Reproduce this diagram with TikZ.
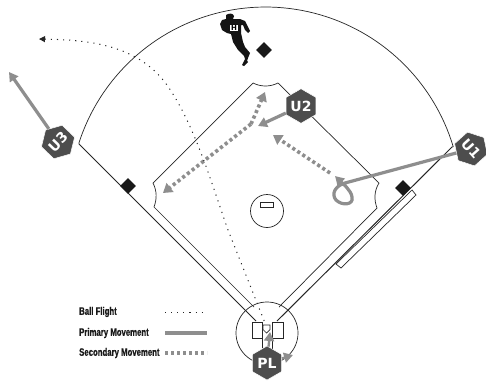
\documentclass[tikz,border=0pt]{standalone}
\usepackage{fontspec}
\usetikzlibrary{shapes.geometric,arrows.meta}
\setmainfont{DejaVu Sans}
\newfontfamily\legendfont[FakeStretch=0.72,FakeBold=0.6]{Liberation Sans Bold}
\definecolor{hexgray}{HTML}{4D4D4D}
\definecolor{movegray}{HTML}{8E8E8E}
\tikzset{
  fieldline/.style={draw=black!85,line width=0.7pt},
  base/.style={fill=black!90,draw=none,diamond,minimum size=16pt,inner sep=0pt},
  umpire/.style={regular polygon,regular polygon sides=6,shape border rotate=30,minimum size=34pt,inner sep=0pt,fill=hexgray,draw=white,line width=0.5pt,text=white,font=\fontsize{14}{14}\selectfont\bfseries},
  primary/.style={draw=movegray,line width=3.2pt,-{Triangle[length=9pt,width=10pt]}},
  secondary/.style={draw=movegray,line width=3.6pt,dash pattern=on 3.2pt off 2.8pt,-{Triangle[length=9pt,width=11pt]}},
  ballflight/.style={draw=black!85,line width=1pt,dash pattern=on 1.1pt off 5pt},
  legendtext/.style={anchor=west,inner sep=0pt,font=\legendfont\fontsize{10.8}{10.8}\selectfont,text=black!90},
}
\begin{document}
\begin{tikzpicture}[x=1pt,y=-1pt]
\useasboundingbox (0,0) rectangle (486,381);
\fill[white] (0,0) rectangle (486,381);
% home circle
\draw[fieldline] (267,333) circle (31);
% outfield and foul lines
\draw[fieldline] (79,144) -- plot[domain=162.2:16.7,samples=80] ({265.5+196*cos(\x)},{203-196*sin(\x)}) -- (452,147);
\draw[fieldline,line width=1pt] (79,144) -- (256,321);
\draw[fieldline,line width=1pt] (452,147) -- (277,321);
% infield
\draw[fieldline] (253,83) .. controls (261,87) and (270,87) .. (278,83) -- (379,183)
  .. controls (374,191) and (374,200) .. (377,208) -- (279,307);
\draw[fieldline] (254,307) -- (154,207) .. controls (157,199) and (157,191) .. (153,183) -- (253,83);
% batter boxes and plate
\draw[fill=white,fieldline] (252,322) rectangle (262,338);
\draw[fill=white,fieldline] (272,322) rectangle (283,338);
\draw[fieldline] (262,338) -- (262,350) (272,338) -- (272,350);
\draw[fieldline,fill=white] (263,325) -- (270,325) -- (270,329.5) -- (266.5,333) -- (263,329.5) -- cycle;
% mound
\draw[fieldline,fill=white] (267,211) circle (16.5);
\draw[fieldline] (260,202) rectangle (273,207);
% foul box
\draw[fieldline,fill=white] (412,190) -- (416,195) -- (341,268) -- (336,264) -- cycle;
% bases
\node[base] (second) at (264,50) {};
\node[base] (first) at (403,188) {};
\node[base] (third) at (128,186) {};
% player
\fill[black!92] (226,15) .. controls (229,13) and (233,13) .. (234,16) -- (233,19) -- (240,19) -- (245,21) -- (248,27) -- (250,31) -- (248,33) -- (245,30) -- (243,25) -- (241,25)
 -- (241,33) -- (243,42) -- (245,47) -- (250,53) -- (248,58) -- (247,61) -- (248,62) -- (244,66) -- (242,65) -- (245,59) -- (244,56) -- (238,50)
 -- (233,42) -- (231,34) -- (227,33) -- (222,30) -- (220,24) -- (222,20) -- (226,19) -- cycle;
\node[fill=white,inner sep=0.6pt,text=black,font=\fontsize{7}{7}\selectfont\bfseries] (jersey) at (234,28) {H};
% umpires
\node[umpire,rotate=46] (u3) at (58,142) {U3};
\node[umpire] (u2) at (301,106) {U2};
\node[umpire,rotate=-48] (u1) at (471,149) {U1};
\node[umpire] (pl) at (267,363) {PL};
% movement targets
\coordinate (u3end) at (9,72);
\coordinate (u2end) at (258,126);
\coordinate (turn) at (251,124);
\coordinate (u2first) at (265,92);
\coordinate (u2third) at (163,193);
\coordinate (u1dot) at (330,173);
\coordinate (u1dotend) at (273,135);
\coordinate (u1s) at (345,183);
\coordinate (u1loop) at (335,176);
\coordinate (plup) at (270,332);
\coordinate (plright) at (293,355);
% primary movement
\draw[primary] (u3) -- (u3end);
\draw[primary] (u2) -- (u2end);
\draw[primary] (u1) -- (u1s) .. controls (335,186) and (331,194) .. (336,200) .. controls (342,206) and (354,205) .. (352,197) .. controls (351,190) and (343,184) .. (u1loop);
\draw[primary,line width=2.4pt] (pl) -- (plup);
\draw[primary,line width=2.4pt] (pl) -- (plright);
% secondary movement
\draw[secondary] (turn) -- (u2third);
\draw[secondary] (turn) -- (u2first);
\draw[secondary] (u1dot) -- (u1dotend);
% ball flight
\coordinate (bstart) at (265,323);
\coordinate (bend) at (39,39);
\draw[ballflight,{Triangle[length=6pt,width=6pt,sep=0pt]}-] (bend) .. controls (90,40) and (138,45) .. (167,85) .. controls (195,125) and (212,185) .. (228,230) -- (bstart);
% legend
\node[legendtext] (l1) at (79,312) {Ball Flight};
\node[legendtext] (l2) at (79,333) {Primary Movement};
\node[legendtext] (l3) at (79,353) {Secondary Movement};
\coordinate (a1) at (165,312); \coordinate (b1) at (204,312);
\coordinate (a2) at (165,333); \coordinate (b2) at (207,333);
\coordinate (a3) at (165,353); \coordinate (b3) at (207,353);
\draw[ballflight] (a1) -- (b1);
\draw[draw=movegray,line width=3.2pt] (a2) -- (b2);
\draw[draw=movegray,line width=3.2pt,dash pattern=on 3.2pt off 2.8pt] (a3) -- (b3);
\end{tikzpicture}
\end{document}
